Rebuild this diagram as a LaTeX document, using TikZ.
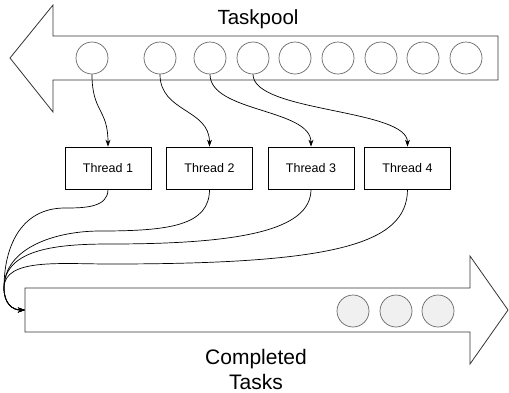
\documentclass[tikz,border=0pt]{standalone}
\usepackage{fontspec}
\setmainfont{Liberation Sans}
\usetikzlibrary{arrows.meta}

\begin{document}
\begin{tikzpicture}[x=1pt, y=-1pt,
    bigarrow/.style={draw=black!80, line width=0.8pt},
    task/.style={circle, draw=black!60, line width=0.7pt, minimum size=32pt, inner sep=0pt},
    donetask/.style={task, fill=black!6},
    thread/.style={draw, line width=0.8pt, minimum width=86pt, minimum height=42pt,
      font=\fontsize{12.5}{15}\selectfont},
    link/.style={-{Stealth[length=7pt, width=5pt]}, line width=0.7pt}]
  \useasboundingbox (0,0) rectangle (509,392);

  \draw[bigarrow] (498,36) -- (53,36) -- (53,5) -- (10,58) -- (53,112) -- (53,80) -- (498,80) -- cycle;
  \node[inner sep=0pt] (pool) at (258,19) {\fontsize{20.5}{24}\selectfont Taskpool};
  \foreach \x [count=\i] in {92,160,210,253,295,338,381,423,466}
    \node[task] (p\i) at (\x,58) {};

  \foreach \x [count=\i] in {108,209.5,311,407.5}
    \node[thread] (t\i) at (\x,168) {Thread \i};
  \foreach \i in {1,...,4}
    \draw[link] (p\i.south) .. controls +(0,38) and +(0,-38) .. (t\i.north);

  \draw[bigarrow] (25,288) -- (470,288) -- (470,256) -- (508,310) -- (470,364) -- (470,332) -- (25,332) -- cycle;
  \coordinate (in) at (25,310);
  \coordinate (bend) at (4,288);
  \foreach \x [count=\i] in {353,396,438}
    \node[donetask] (d\i) at (\x,311) {};
  \node[align=center, inner sep=0pt, font=\fontsize{21}{25}\selectfont] (done) at (256,369) {Completed\\Tasks};

  \coordinate (w1) at (65,208);
  \coordinate (w2) at (100,231);
  \coordinate (w3) at (110,244);
  \coordinate (w4) at (110,264);
  \draw[link] (t1.south) .. controls +(0,18) and +(20,0) .. (w1)
    .. controls +(-45,0) and +(0,-40) .. (bend) .. controls +(0,16) and +(-12,0) .. (in);
  \draw[link] (t2.south) .. controls +(0,36) and +(70,0) .. (w2)
    .. controls +(-45,0) and +(0,-40) .. (bend) .. controls +(0,16) and +(-12,0) .. (in);
  \draw[link] (t3.south) .. controls +(0,41) and +(130,0) .. (w3)
    .. controls +(-50,0) and +(0,-40) .. (bend) .. controls +(0,16) and +(-12,0) .. (in);
  \draw[link] (t4.south) .. controls +(0,56) and +(220,0) .. (w4)
    .. controls +(-50,0) and +(0,-30) .. (bend) .. controls +(0,16) and +(-12,0) .. (in);
\end{tikzpicture}
\end{document}
